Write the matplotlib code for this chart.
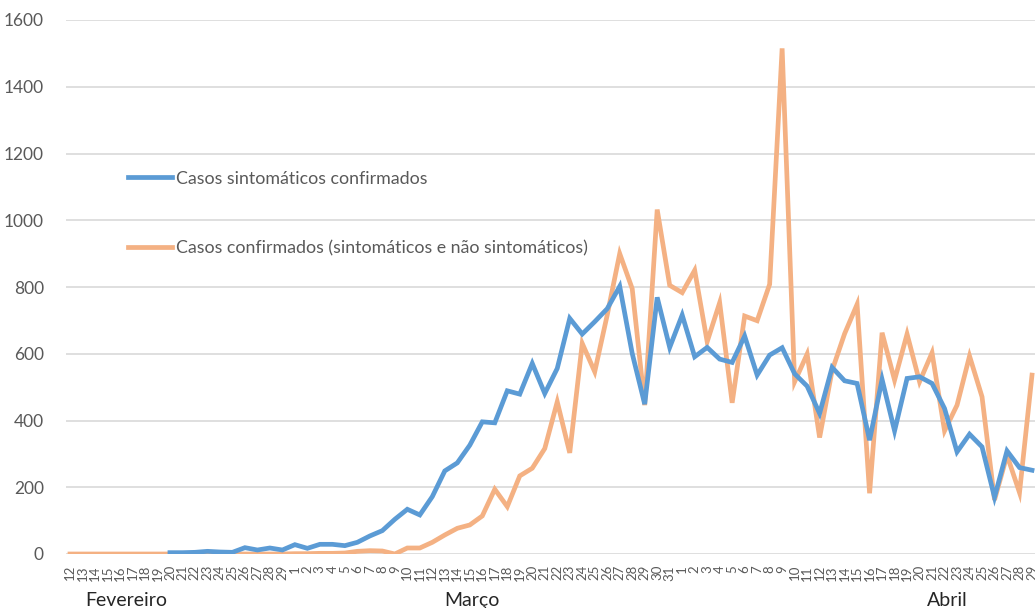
import numpy as np
import matplotlib
matplotlib.use("Agg")
import matplotlib.pyplot as plt
import matplotlib.transforms as mtransforms

plt.rcParams['font.family'] = ['Lato', 'DejaVu Sans']

# ---- data ----
days_feb = list(range(12, 30))
days_mar = list(range(1, 32))
days_apr = list(range(1, 30))
tick_labels = [str(d) for d in days_feb + days_mar + days_apr]

months = ["Fevereiro", "Março", "Abril"]
month_label_pos = [4.5, 32.2, 70.2]

sintomaticos = (
    [np.nan] * 8 +
    [4, 4, 5, 8, 6, 5, 19, 12, 18, 12] +
    [28, 17, 29, 29, 25, 35, 54, 70, 104, 134,
     117, 172, 249, 273, 326, 396, 393, 489, 479, 571,
     481, 556, 706, 659, 696, 735, 802, 601, 449, 769, 619] +
    [716, 591, 619, 584, 574, 653, 536, 596, 618, 540,
     503, 421, 559, 519, 511, 341, 523, 369, 526, 531,
     511, 436, 306, 359, 321, 170, 309, 259, 251]
)

confirmados = (
    [0] * 18 +
    [1, 1, 2, 2, 3, 8, 10, 9, 0, 18,
     18, 35, 57, 77, 87, 114, 194, 142, 234, 257,
     316, 456, 303, 631, 546, 716, 900, 795, 446, 1032, 805] +
    [783, 850, 636, 753, 453, 713, 699, 808, 1515, 516,
     599, 349, 550, 660, 748, 182, 663, 521, 659, 516,
     603, 369, 446, 593, 471, 162, 296, 184, 536]
)

series_names = ["Casos sintomáticos confirmados",
                "Casos confirmados (sintomáticos e não sintomáticos)"]
colors = ["#5B9BD5", "#F4B183"]

# ---- plot ----
fig = plt.figure(figsize=(10.35, 6.08), dpi=100)
ax = fig.add_axes([66 / 1035, 54 / 608, 969 / 1035, 534 / 608])

x = np.arange(len(tick_labels))
ax.plot(x, sintomaticos, color=colors[0], lw=3.4, label=series_names[0],
        solid_joinstyle='miter', zorder=3)
ax.plot(x, confirmados, color=colors[1], lw=3.4, label=series_names[1],
        solid_joinstyle='miter', zorder=2)

ax.set_xlim(-0.32, len(tick_labels) - 1 + 0.24)
ax.set_ylim(0, 1600)
ax.set_yticks(np.arange(0, 1601, 200))
ax.grid(axis='y', color='#D9D9D9', lw=1.2)
ax.set_axisbelow(True)
for s in ax.spines.values():
    s.set_visible(False)

ax.tick_params(axis='y', length=0, pad=16, labelsize=12.5, labelcolor='#595959')
ax.set_xticks(x)
ax.set_xticklabels(tick_labels, rotation=90, fontsize=9.5, color='#595959')
ax.tick_params(axis='x', length=0, pad=8)

trans = mtransforms.blended_transform_factory(ax.transData, ax.transAxes)
for m, p in zip(months, month_label_pos):
    ax.text(p, -0.097, m, transform=trans, ha='center', va='baseline',
            fontsize=14, color='#262626', clip_on=False)

leg = ax.legend(loc='upper left', bbox_to_anchor=(0.064, 0.718), frameon=False,
                fontsize=12.8, handlelength=2.5, handletextpad=0.2,
                labelspacing=3.0, borderpad=0, borderaxespad=0)
for t in leg.get_texts():
    t.set_color('#595959')

fig.savefig("out.png", dpi=100)
